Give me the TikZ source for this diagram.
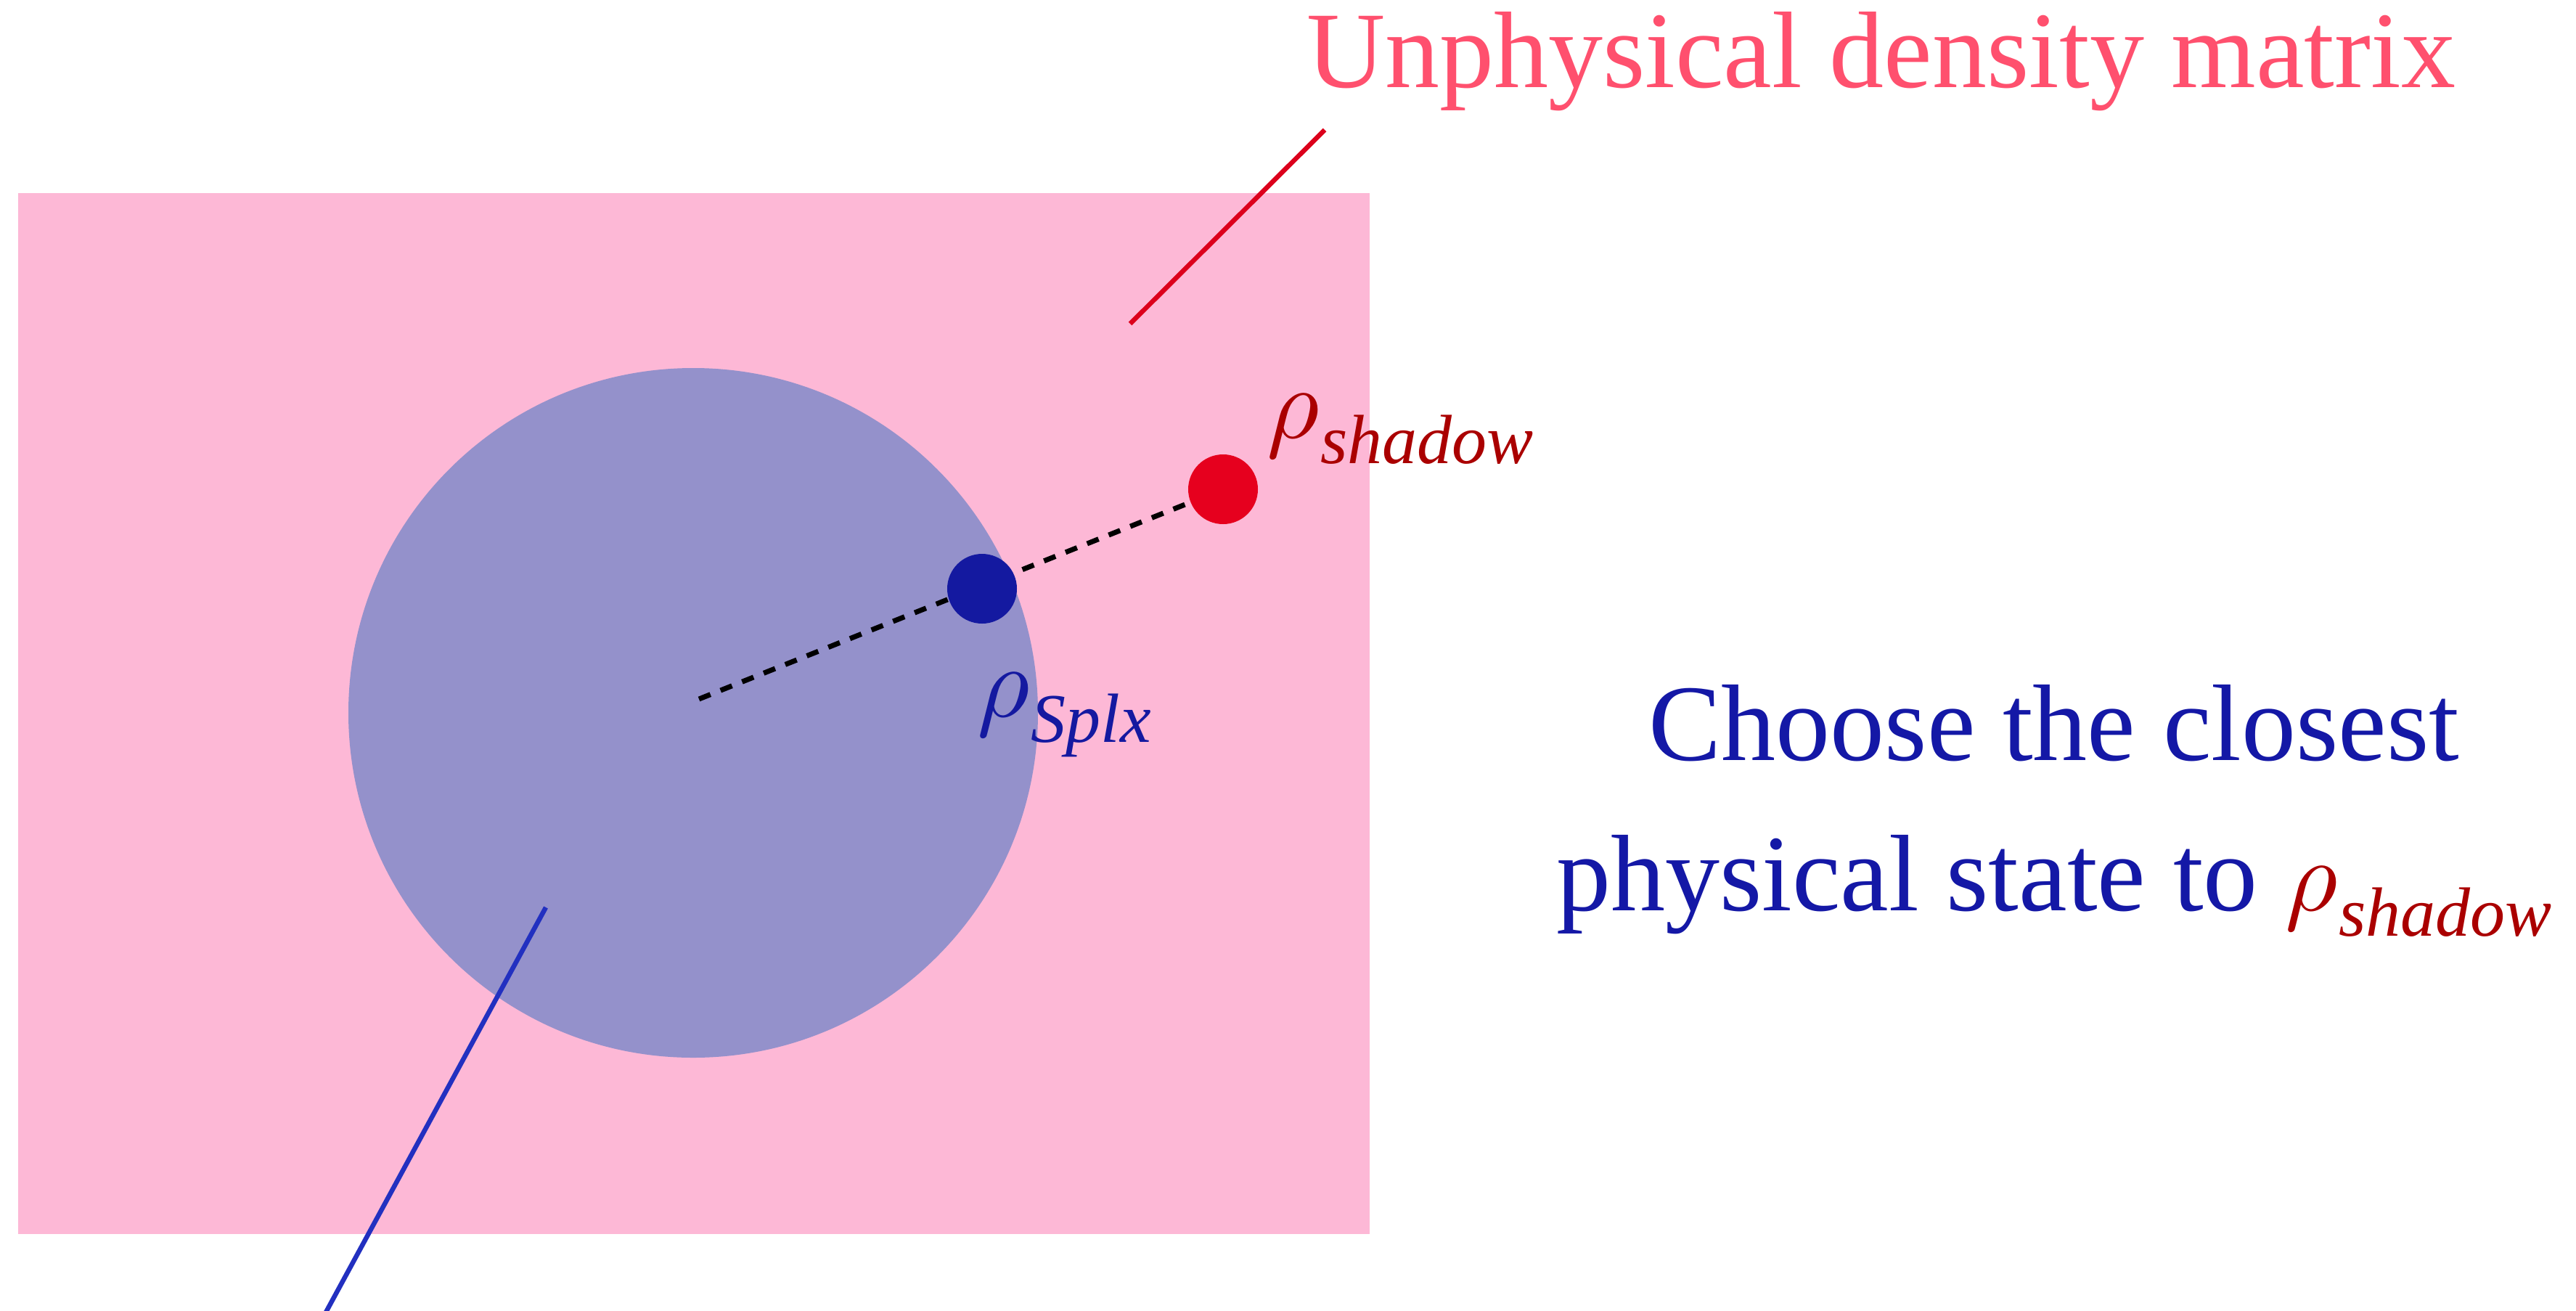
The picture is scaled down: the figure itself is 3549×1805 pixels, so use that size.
\documentclass[tikz,border=0pt]{standalone}
\usepackage{fontspec}
\setmainfont{Liberation Serif}
\definecolor{pinkbg}{HTML}{FDB8D6}
\definecolor{splxcol}{HTML}{9491CB}
\definecolor{bluelinecol}{HTML}{2230C0}
\definecolor{redlinecol}{HTML}{DC001C}
\definecolor{reddotcol}{HTML}{E6001E}
\definecolor{bluedotcol}{HTML}{1419A0}
\definecolor{darkredtxt}{HTML}{AA0000}
\definecolor{titlecol}{HTML}{FF506E}
\definecolor{bluetxt}{HTML}{1418A6}
\newcommand\bigtxt{\fontsize{150}{150}\selectfont}
\newcommand\mysub[1]{\raisebox{-35pt}{\fontsize{96}{96}\selectfont\itshape #1}}
\newcommand\myrho[1]{\scalebox{14}{\normalsize$\rho$}\kern2pt\mysub{#1}}
\begin{document}
\begin{tikzpicture}[x=1pt,y=-1pt,
  lbl/.style={inner sep=0pt, outer sep=0pt, font=\bigtxt},
  dotnode/.style={circle, inner sep=0pt, outer sep=0pt, minimum size=96pt},
  dashline/.style={line width=7pt, dash pattern=on 17pt off 15pt, black},
  leader/.style={line width=6.5pt}]
\useasboundingbox (0,0) rectangle (3549,1805);
% background rectangle (unphysical region)
\fill[pinkbg] (25,266) rectangle (1887,1700);
% physical set
\node[circle, fill=splxcol, inner sep=0pt, outer sep=0pt, minimum size=950pt] (simplex) at (955,982) {};
% leader lines
\coordinate (bluea) at (752,1250);
\coordinate (blueb) at (445,1815);
\draw[leader, bluelinecol] (bluea) -- (blueb);
\coordinate (reda) at (1557,446);
\coordinate (redb) at (1825,179);
\draw[leader, redlinecol] (reda) -- (redb);
% dashed line
\coordinate (dstart) at (963,963);
\coordinate (rsc) at (1685,674);
\coordinate (bsc) at (1353,811);
\draw[dashline] (dstart) -- (rsc);
% dots
\node[dotnode, fill=reddotcol] (rshadow) at (rsc) {};
\node[dotnode, fill=bluedotcol] (rsplx) at (bsc) {};
% labels
\node[lbl, anchor=base west, text=titlecol] (title) at (1800,120) {Unphysical density matrix};
\node[lbl, anchor=base west, text=darkredtxt] (lshadow) at (1745,603) {\myrho{shadow}};
\node[lbl, anchor=base west, text=bluedotcol] (lsplx) at (1346,987) {\myrho{Splx}};
\node[lbl, anchor=base, text=bluetxt] (choose1) at (2830,1047) {Choose the closest};
\node[lbl, anchor=base, text=bluetxt] (choose2) at (2830,1254) {physical state to \textcolor{darkredtxt}{\myrho{shadow}}};
\end{tikzpicture}
\end{document}
